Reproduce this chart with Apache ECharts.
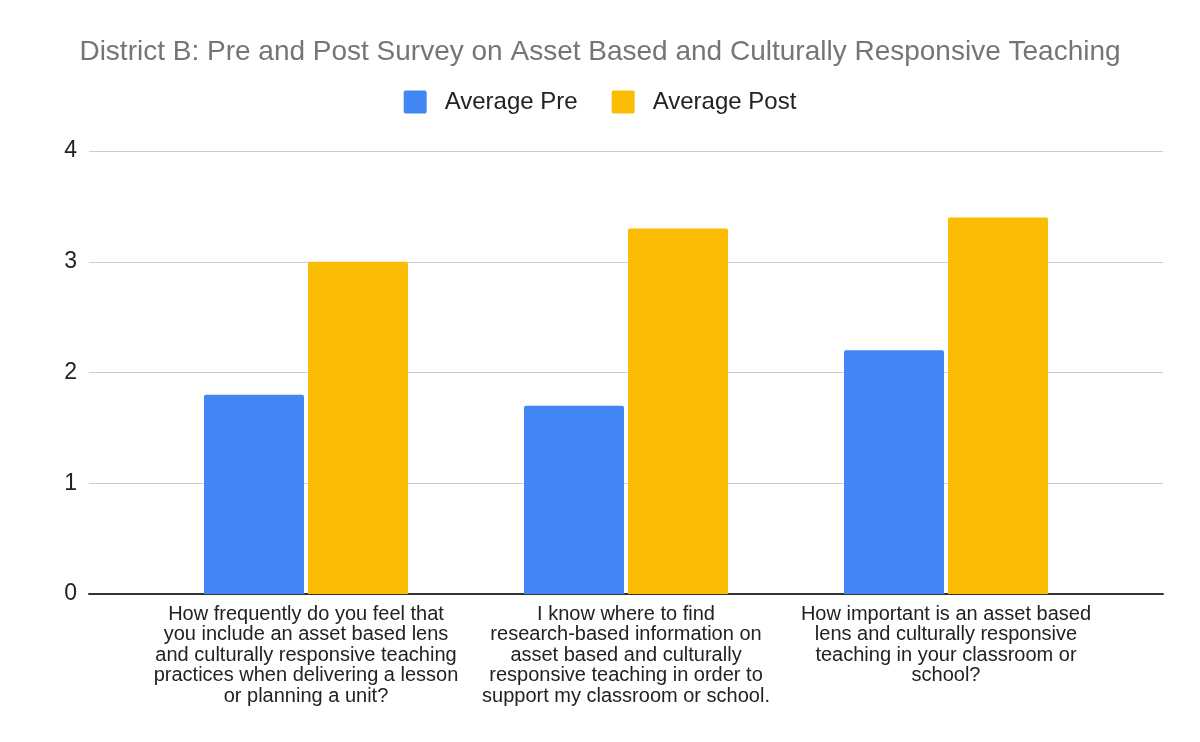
<!DOCTYPE html>
<html><head><meta charset="utf-8">
<script src="https://cdn.jsdelivr.net/npm/echarts@6/dist/echarts.min.js"></script>
<style>html,body{margin:0;padding:0;background:#fff}#c{width:1200px;height:742px}</style>
</head><body><div id="c"></div>
<script>
var categories = [
  "How frequently do you feel that\nyou include an asset based lens\nand culturally responsive teaching\npractices when delivering a lesson\nor planning a unit?",
  "I know where to find\nresearch-based information on\nasset based and culturally\nresponsive teaching in order to\nsupport my classroom or school.",
  "How important is an asset based\nlens and culturally responsive\nteaching in your classroom or\nschool?"
];
var seriesNames = ["Average Pre", "Average Post"];
var averagePre = [1.8, 1.7, 2.2];
var averagePost = [3.0, 3.3, 3.4];
var yTicks = [0, 1, 2, 3, 4];

var font = "'Liberation Sans', Arial, sans-serif";
var chart = echarts.init(document.getElementById('c'));
chart.setOption({
  animation: false,
  textStyle: {fontFamily: font},
  title: {
    text: "District B: Pre and Post Survey on Asset Based and Culturally Responsive Teaching",
    left: 'center', top: 33,
    textStyle: {color: '#757575', fontSize: 28, fontWeight: 'normal', fontFamily: font}
  },
  legend: {
    data: seriesNames, top: 85, left: 'center',
    itemWidth: 23, itemHeight: 23, itemGap: 34,
    icon: 'path://M2,0 L21,0 Q23,0 23,2 L23,21 Q23,23 21,23 L2,23 Q0,23 0,21 L0,2 Q0,0 2,0 Z',
    textStyle: {color: '#222', fontSize: 24, fontFamily: font, padding: [0, 0, 0, 13]}
  },
  grid: [
    {left: 89, right: 37, top: 151, bottom: 148},
    {left: 146, right: 94, top: 151, bottom: 148}
  ],
  xAxis: [
    {gridIndex: 0, type: 'value', min: 0, max: 1, show: true,
     axisLine: {show: true, onZero: false, lineStyle: {color: '#333', width: 2}},
     axisTick: {show: false}, axisLabel: {show: false}, splitLine: {show: false}},
    {gridIndex: 1, type: 'category', data: categories,
     axisLine: {show: false}, axisTick: {show: false},
     axisLabel: {interval: 0, color: '#222', fontSize: 20, lineHeight: 20.5, margin: 10, fontFamily: font}}
  ],
  yAxis: [
    {gridIndex: 0, type: 'value', min: yTicks[0], max: yTicks[yTicks.length - 1], interval: 1,
     axisLine: {show: false}, axisTick: {show: false},
     axisLabel: {color: '#222', fontSize: 23, margin: 12, fontFamily: font},
     splitLine: {lineStyle: {color: '#cccccc', width: 1}}},
    {gridIndex: 1, type: 'value', min: yTicks[0], max: yTicks[yTicks.length - 1], show: false,
     splitLine: {show: false}}
  ],
  series: [
    {name: seriesNames[0], type: 'bar', xAxisIndex: 1, yAxisIndex: 1, data: averagePre,
     barWidth: 100, barGap: '4%', itemStyle: {color: '#4285F4', borderRadius: [2, 2, 0, 0]}},
    {name: seriesNames[1], type: 'bar', xAxisIndex: 1, yAxisIndex: 1, data: averagePost,
     barWidth: 100, barGap: '4%', itemStyle: {color: '#FBBC04', borderRadius: [2, 2, 0, 0]}}
  ]
});
</script></body></html>
